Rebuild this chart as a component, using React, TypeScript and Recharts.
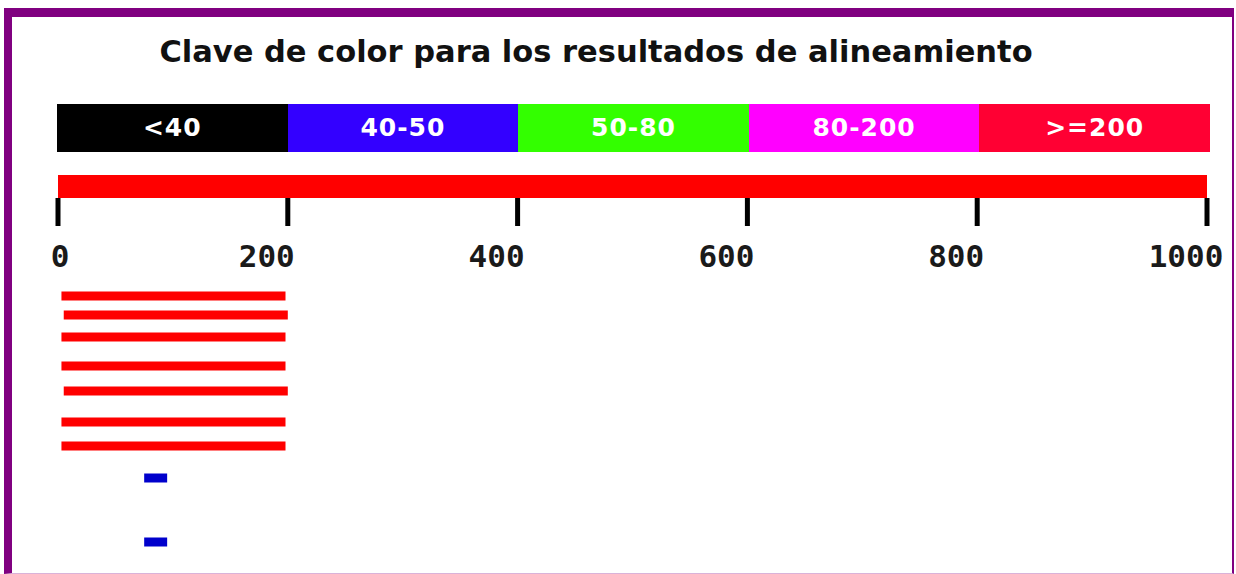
import { BarChart, Bar, XAxis, YAxis, LineChart, Line } from "recharts";

// colour key (score ranges)
const keyLabels = ["<40", "40-50", "50-80", "80-200", ">=200"];
const keyColors = ["#000000", "#3300ff", "#33ff00", "#ff00ff", "#ff0033"];

// query sequence and ruler
const queryStart = 0;
const queryEnd = 1000;
const rulerTicks = [0, 200, 400, 600, 800, 1000];

// aligned hits: start / end on the query, display track, colour
const hitStarts = [3, 5, 3, 3, 5, 3, 3, 75, 75];
const hitEnds = [198, 200, 198, 198, 200, 198, 198, 95, 95];
const hitTracks = [1, 1.95, 3.05, 4.5, 5.75, 7.3, 8.5, 10.1, 13.3];
const hitColors = ["#ff0000", "#ff0000", "#ff0000", "#ff0000", "#ff0000", "#ff0000", "#ff0000", "#0000cc", "#0000cc"];

const queryData = [{ name: "query", span: [queryStart, queryEnd] }];
const hits = hitStarts.map((s, i) => ({
  color: hitColors[i],
  points: [
    { x: s, y: hitTracks[i] },
    { x: hitEnds[i], y: hitTracks[i] },
  ],
}));

const W = 1236;
const H = 574;
const M = { left: 58, right: 29 };

const RulerTick = (props: any) => {
  const { x, y, payload } = props;
  const shift = payload.value === 0 ? 2 : -21;
  return (
    <text
      x={x + shift}
      y={y + 39}
      textAnchor="middle"
      fill="#1a1a1a"
      fontFamily="DejaVu Sans Mono"
      fontWeight="bold"
      fontSize={31}
    >
      {payload.value}
    </text>
  );
};

export default function App() {
  return (
    <div style={{ position: "fixed", left: 0, top: 0, width: W, height: H, background: "#fff", overflow: "hidden" }}>
      <div
        style={{
          position: "absolute",
          left: 4,
          top: 8,
          width: 1230,
          height: 566,
          boxSizing: "border-box",
          borderTop: "9px solid #800080",
          borderLeft: "8px solid #800080",
          borderRight: "2px solid #800080",
          borderBottom: "1px solid #d9b3d9",
        }}
      />
      <div
        style={{
          position: "absolute",
          left: 0,
          top: 35,
          width: 1192,
          textAlign: "center",
          fontFamily: "DejaVu Sans",
          fontWeight: "bold",
          fontSize: 30.5,
          lineHeight: "34px",
          color: "#111",
        }}
      >
        Clave de color para los resultados de alineamiento
      </div>
      <div style={{ position: "absolute", left: 57, top: 104, width: 1153, height: 48, display: "flex" }}>
        {keyLabels.map((label, i) => (
          <div
            key={label}
            style={{
              flex: 1,
              background: keyColors[i],
              color: "#fff",
              fontFamily: "DejaVu Sans",
              fontWeight: "bold",
              fontSize: 25,
              letterSpacing: 1,
              lineHeight: "48px",
              textAlign: "center",
            }}
          >
            {label}
          </div>
        ))}
      </div>
      <div style={{ position: "absolute", left: 0, top: 0 }}>
        <BarChart
          width={W}
          height={300}
          layout="vertical"
          data={queryData}
          barCategoryGap={0}
          margin={{ top: 175, bottom: 42, left: M.left, right: M.right }}
        >
          <XAxis
            type="number"
            domain={[0, 1000]}
            ticks={rulerTicks}
            height={60}
            axisLine={false}
            tickLine={{ stroke: "#000", strokeWidth: 5 }}
            tickSize={28}
            tick={<RulerTick />}
            interval={0}
          />
          <YAxis type="category" dataKey="name" hide />
          <Bar dataKey="span" fill="#ff0000" isAnimationActive={false} />
        </BarChart>
      </div>
      <div style={{ position: "absolute", left: 0, top: 0 }}>
        <LineChart width={W} height={H} margin={{ top: 276, bottom: 18, left: M.left, right: M.right }}>
          <XAxis type="number" dataKey="x" domain={[0, 1000]} hide allowDuplicatedCategory={false} />
          <YAxis type="number" dataKey="y" domain={[0, 14]} reversed hide />
          {hits.map((h, i) => (
            <Line
              key={i}
              data={h.points}
              dataKey="y"
              stroke={h.color}
              strokeWidth={9}
              strokeLinecap="butt"
              dot={false}
              activeDot={false}
              isAnimationActive={false}
            />
          ))}
        </LineChart>
      </div>
    </div>
  );
}
